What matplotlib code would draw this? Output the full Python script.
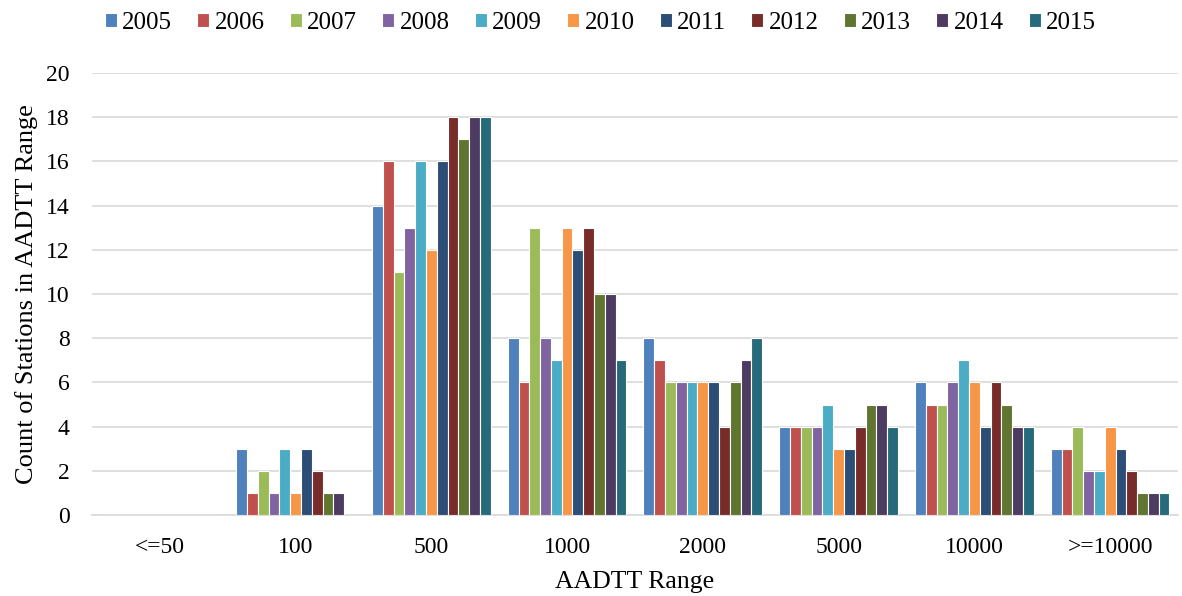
import matplotlib
matplotlib.use("Agg")
import matplotlib.pyplot as plt
import numpy as np

categories = ["<=50", "100", "500", "1000", "2000", "5000", "10000", ">=10000"]
years = ["2005", "2006", "2007", "2008", "2009", "2010", "2011", "2012", "2013", "2014", "2015"]
colors = ["#4F81BD", "#C0504D", "#9BBB59", "#8064A2", "#4BACC6", "#F79646",
          "#2C4D75", "#772C2A", "#5F7530", "#4D3B62", "#276A7C"]

v2005 = [0, 3, 14, 8, 8, 4, 6, 3]
v2006 = [0, 1, 16, 6, 7, 4, 5, 3]
v2007 = [0, 2, 11, 13, 6, 4, 5, 4]
v2008 = [0, 1, 13, 8, 6, 4, 6, 2]
v2009 = [0, 3, 16, 7, 6, 5, 7, 2]
v2010 = [0, 1, 12, 13, 6, 3, 6, 4]
v2011 = [0, 3, 16, 12, 6, 3, 4, 3]
v2012 = [0, 2, 18, 13, 4, 4, 6, 2]
v2013 = [0, 1, 17, 10, 6, 5, 5, 1]
v2014 = [0, 1, 18, 10, 7, 5, 4, 1]
v2015 = [0, 0, 18, 7, 8, 4, 4, 1]
series = [v2005, v2006, v2007, v2008, v2009, v2010, v2011, v2012, v2013, v2014, v2015]

SERIF = "Liberation Serif"

fig = plt.figure(figsize=(11.82, 5.96), dpi=100)
ax = fig.add_axes([0.0778, 0.1359, 0.9188, 0.7416])

x = np.arange(len(categories))
n = len(series)
group = 0.875
w = group / n
for i, (vals, c, yr) in enumerate(zip(series, colors, years)):
    ax.bar(x - group / 2 + w * (i + 0.5), vals, width=w, color=c,
           edgecolor="white", linewidth=0.8, label=yr, zorder=3)

ax.set_xlim(-0.5, len(categories) - 0.5)
ax.set_ylim(0, 20)
ax.set_yticks(range(0, 21, 2))
ax.set_xticks(x)
ax.set_xticklabels(categories)
ax.yaxis.grid(True, color="#d9d9d9", linewidth=1.2, zorder=0)
ax.set_axisbelow(True)
for s in ["top", "right", "left"]:
    ax.spines[s].set_visible(False)
ax.spines["bottom"].set_color("#d9d9d9")
ax.spines["bottom"].set_linewidth(1.2)
ax.tick_params(axis="both", length=0, labelsize=17)
ax.tick_params(axis="x", pad=16)
ax.tick_params(axis="y", pad=16)
for lab in ax.get_xticklabels() + ax.get_yticklabels():
    lab.set_family(SERIF)
ax.set_xlabel("AADTT Range", family=SERIF, fontsize=18.5, labelpad=9)
ax.set_ylabel("Count of Stations in AADTT Range", family=SERIF, fontsize=19, labelpad=6)

leg = fig.legend(loc="center", bbox_to_anchor=(0.508, 0.962), ncol=11, frameon=False,
                 handlelength=0.48, handleheight=0.48, handletextpad=0.22, columnspacing=1.0,
                 borderaxespad=0, prop={"family": SERIF, "size": 18})

fig.savefig("out.png", dpi=100)
